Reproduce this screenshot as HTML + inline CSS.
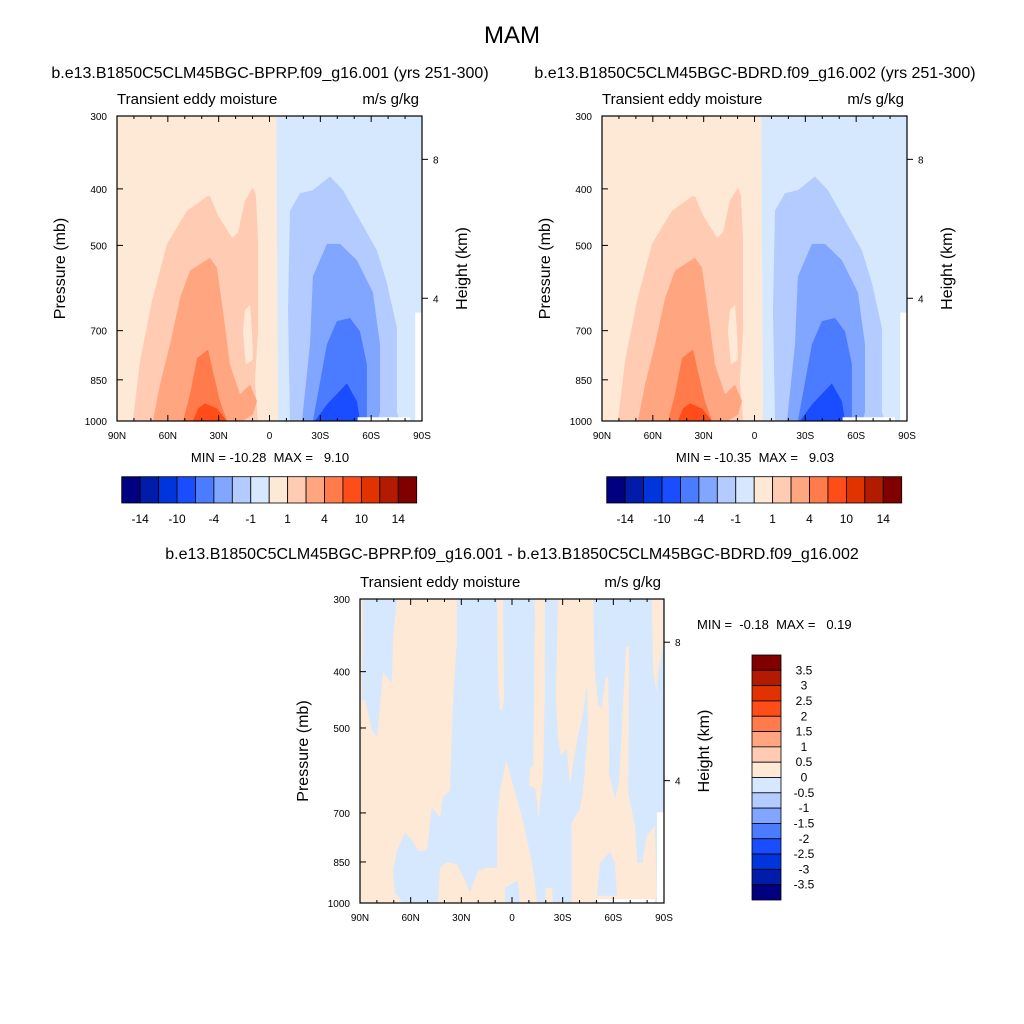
<!DOCTYPE html>
<html><head><meta charset="utf-8"><style>
html,body{margin:0;padding:0;background:#fff;}
svg{display:block;font-family:"Liberation Sans",sans-serif;}
</style></head><body>
<svg id="c" width="1024" height="1024" viewBox="0 0 1024 1024">
<text x="512" y="43" font-size="24" text-anchor="middle">MAM</text>
</svg>
<script>
// ---- data ----
const palette = ['#000080','#001ca8','#0034dc','#1a4dff','#4b7bff','#80a6ff','#b3cbff','#d6e8fd','#fee8d6','#ffccb3','#ffa680','#ff7b4b','#ff4d1a','#e03300','#b31b00','#800000'];
const topBarLabels = ['-14','-10','-4','-1','1','4','10','14'];
const diffBarLabels = ['3.5','3','2.5','2','1.5','1','0.5','0','-0.5','-1','-1.5','-2','-2.5','-3','-3.5'];
const latTicks = [90,60,30,0,-30,-60,-90];
const latTickLabels = ['90N','60N','30N','0','30S','60S','90S'];
const presTicks = [300,400,500,700,850,1000];
const heightTicks = [8,4];
const heightTickPres = [356,616];
// contour regions: [lat, pressure(mb)] and fill level index
const posL1 = [[90,300],[-4,300],[-5,1000],[90,1000]];
const negL1 = [[-4,300],[-90,300],[-90,1000],[-5,1000]];
const posL2 = [[80.6,1000],[76.4,790],[69.4,623],[60.5,497],[48.7,436],[36.9,412],[35.1,412],[30.4,444],[22.1,485],[18.6,475],[14.5,419],[9.8,398],[8,410],[6.8,489],[6.8,702],[8.6,857],[6.8,1000]];
const posHole = [[13.9,800],[15.7,702],[14.5,646],[11.5,632],[10.3,702],[9.8,785]];
const posL3 = [[68.8,1000],[64.6,866],[58.7,739],[52.8,616],[46.9,552],[35.1,525],[31,546],[27.5,646],[23.3,800],[17.4,900],[11.5,866],[7.4,925],[9.8,975],[15.7,1000]];
const posL4 = [[51,1000],[46.9,900],[42.8,780],[36.3,754],[33.4,822],[29.2,925],[25.1,1000]];
const posL5 = [[45.2,1000],[42.2,952],[38,933],[31,952],[25.1,1000]];
const negL2 = [[-12.1,1000],[-10.9,646],[-12.1,436],[-18,407],[-25.6,402],[-35.7,381],[-43.3,402],[-53.4,453],[-63.4,510],[-69.3,580],[-75.2,692],[-75.2,965],[-77,1000]];
const negL3 = [[-19.2,1000],[-23.9,739],[-25.6,565],[-33.9,497],[-41.6,497],[-51.6,530],[-61,602],[-65.2,739],[-65.2,965],[-64,1000]];
const negL4 = [[-25.6,1000],[-33.9,739],[-39.8,674],[-47.5,666],[-53.4,702],[-57.5,800],[-57.5,1000]];
const negL5 = [[-26.8,1000],[-33.9,937],[-45.7,862],[-51.6,925],[-53.4,1000]];
const missA = [[-52,985],[-83,985],[-83,1000],[-52,1000]];
const missB = [[-86,652],[-90,652],[-90,1000],[-86,1000]];
// difference panel
const dBlueL = [[88.2,300],[68.1,300],[70.5,353],[71.1,419],[76.4,401],[79.9,519],[82.9,505],[87,448],[88.8,448]];
const dBlueC = [[32.6,300],[-27.2,300],[-26,439],[-27.2,521],[-29,557],[-32.5,542],[-34.3,628],[-36.1,573],[-39.1,514],[-42,470],[-44.4,420],[-45,501],[-43.2,587],[-42,654],[-40.2,688],[-35.5,727],[-35.5,1000],[64.5,1000],[69.3,960],[70.5,880],[68.1,813],[63.4,757],[59.2,779],[55.7,813],[50.3,813],[47.4,685],[42.6,713],[40.9,657],[36.7,640],[34.9,448],[32.6,353]];
const dBlueR = [[-48,300],[-90,300],[-90,1000],[-48,1000]];
const dPeachR = [[-27.4,300],[-48.1,300],[-49.1,405],[-51.1,457],[-53.1,462],[-55.6,409],[-57,409],[-57.6,603],[-61,662],[-63.5,619],[-67.5,363],[-69.4,363],[-68.8,646],[-72.8,736],[-74.2,853],[-77.4,853],[-79.7,766],[-84.6,736],[-85.6,972],[-84.6,993],[-35.3,993],[-35.3,727],[-40.2,688],[-41.8,654],[-43.2,587],[-45.2,501],[-44.8,422],[-44.2,421],[-42.2,470],[-39.2,514],[-36.3,573],[-34.3,628],[-32.4,542],[-28.8,557],[-27.4,521],[-26,439]];
const dBluePatch = [[-50.3,972],[-52.1,853],[-58,817],[-61,853],[-62.1,972]];
const dPeachS1 = [[8.9,300],[5.3,300],[4.7,448],[5.9,466],[7.1,466],[8.3,414]];
const dPeachS2 = [[-13.6,300],[-19.5,300],[-19.5,422],[-18.5,603],[-17,654],[-16,713],[-15.6,713],[-14.6,662],[-13.6,635],[-10.2,628],[-10.6,587],[-12.6,580]];
const dPeachS3 = [[-82.7,300],[-89.4,300],[-89.4,360],[-86.6,401],[-85.6,434],[-83.6,401]];
const dPeachW = [[3.6,573],[7.1,640],[8.9,727],[8.9,870],[14.8,870],[20.1,880],[24.9,960],[26.1,1000],[4.2,1000],[4.2,942],[-3.5,915],[-4.7,1000],[-14.8,1000],[-13.6,926],[-11.8,851],[-6.5,722],[3,573]];
const dPeachB = [[43.8,1000],[42.6,870],[38.5,851],[32.6,858],[27.8,915],[24.9,960],[23.7,1000]];
const dPeachSm = [[-19.5,1000],[-20.1,942],[-23.7,942],[-24.3,1000]];
const dMissA = [[-85.8,698],[-90,698],[-90,1000],[-85.8,1000]];
const dMissB = [[-50.9,985],[-84.6,985],[-84.6,1000],[-50.9,1000]];

const svg = document.getElementById('c');
const NS = 'http://www.w3.org/2000/svg';
function mk(tag, attrs, parent){const e=document.createElementNS(NS,tag);for(const k in attrs)e.setAttribute(k,attrs[k]);(parent||svg).appendChild(e);return e;}
function txt(x,y,s,size,anchor,parent,rot){const t=mk('text',{x:x,y:y,'font-size':size,'text-anchor':anchor||'start'},parent);if(rot)t.setAttribute('transform','rotate(-90 '+x+' '+y+')');t.textContent=s;return t;}

function panel(x0,y0,w,h,regions,name){
  const g=mk('g',{});
  
  
  const X=lat=>x0+(90-lat)/180*w;
  const Y=p=>y0+Math.log(p/300)/Math.log(1000/300)*h;
  regions.forEach(r=>{
    const pts=r.pts.map(q=>X(q[0]).toFixed(1)+','+Y(q[1]).toFixed(1)).join(' ');
    const pg=mk('polygon',{points:pts,fill:r.fill},g);
    
    
  });
  const fr=mk('rect',{x:x0,y:y0,width:w,height:h,fill:'none',stroke:'#000','stroke-width':1.2},g);
  
  
  for(let lat=90;lat>=-90;lat-=10){
    const x=X(lat),major=lat%30===0,L=major?6:3;
    mk('line',{x1:x,y1:y0+h,x2:x,y2:y0+h-L,stroke:'#000'},g);
    mk('line',{x1:x,y1:y0,x2:x,y2:y0+L,stroke:'#000'},g);
  }
  latTicks.forEach((lat,i)=>{const t=txt(X(lat),y0+h+18,latTickLabels[i],10,'middle',g);
    
    });
  presTicks.forEach(p=>{const y=Y(p);mk('line',{x1:x0,y1:y,x2:x0+6,y2:y,stroke:'#000'},g);
    const t=txt(x0-10,y+4,String(p),10,'end',g);
    
    });
  heightTicks.forEach((hk,i)=>{const y=Y(heightTickPres[i]);mk('line',{x1:x0+w,y1:y,x2:x0+w+6,y2:y,stroke:'#000'},g);
    const t=txt(x0+w+11,y+4,String(hk),10,'start',g);
    
    });
  let t=txt(x0-52,y0+h/2,'Pressure (mb)',16,'middle',g,true);
  
  
  t=txt(x0+w+45,y0+h/2,'Height (km)',16,'middle',g,true);
  
  
  t=txt(x0,y0-12,'Transient eddy moisture',15,'start',g);
  
  
  t=txt(x0+w-3,y0-12,'m/s g/kg',15,'end',g);
  
  
  return g;
}
const P=i=>palette[i];
const topRegions=[
 {pts:posL1,fill:P(8),name:'contour-pos-1'},{pts:negL1,fill:P(7),name:'contour-neg-1'},
 {pts:posL2,fill:P(9),name:'contour-pos-2'},{pts:posHole,fill:P(8),name:'contour-pos-hole'},
 {pts:posL3,fill:P(10),name:'contour-pos-3'},{pts:posL4,fill:P(11),name:'contour-pos-4'},{pts:posL5,fill:P(12),name:'contour-pos-5'},
 {pts:negL2,fill:P(6),name:'contour-neg-2'},{pts:negL3,fill:P(5),name:'contour-neg-3'},{pts:negL4,fill:P(4),name:'contour-neg-4'},{pts:negL5,fill:P(3),name:'contour-neg-5'},
 {pts:missA,fill:'#fff',name:'missing-area'},{pts:missB,fill:'#fff',name:'missing-edge'}];
const diffRegions=[
 {pts:[[90,300],[-90,300],[-90,1000],[90,1000]],fill:P(8),name:'diff-positive-bg'},
 {pts:dBlueL,fill:P(7),name:'diff-neg-left'},{pts:dBlueC,fill:P(7),name:'diff-neg-center'},{pts:dBlueR,fill:P(7),name:'diff-neg-right'},
 {pts:dPeachR,fill:P(8),name:'diff-pos-right'},{pts:dBluePatch,fill:P(7),name:'diff-neg-patch'},
 {pts:dPeachS1,fill:P(8),name:'diff-pos-strip1'},{pts:dPeachS2,fill:P(8),name:'diff-pos-strip2'},{pts:dPeachS3,fill:P(8),name:'diff-pos-strip3'},
 {pts:dPeachW,fill:P(8),name:'diff-pos-wedge'},{pts:dPeachB,fill:P(8),name:'diff-pos-bump'},{pts:dPeachSm,fill:P(8),name:'diff-pos-small'},
 {pts:dMissA,fill:'#fff',name:'diff-missing-edge'},{pts:dMissB,fill:'#fff',name:'diff-missing-bottom'}];

panel(117,116,305,305,topRegions,'panel-bprp');
panel(602,116,305,305,topRegions,'panel-bdrd');
panel(360,599,304,304,diffRegions,'panel-difference');

let t;
t=txt(270,78,'b.e13.B1850C5CLM45BGC-BPRP.f09_g16.001 (yrs 251-300)',16,'middle');
 
t=txt(755,78,'b.e13.B1850C5CLM45BGC-BDRD.f09_g16.002 (yrs 251-300)',16,'middle');
 
t=txt(512,559,'b.e13.B1850C5CLM45BGC-BPRP.f09_g16.001 - b.e13.B1850C5CLM45BGC-BDRD.f09_g16.002',16,'middle');
 
t=txt(270,462,'MIN = -10.28  MAX =   9.10',13,'middle');
 
t=txt(755,462,'MIN = -10.35  MAX =   9.03',13,'middle');
 
t=txt(697,629,'MIN =  -0.18  MAX =   0.19',13,'start');
 
t.setAttribute('xml:space','preserve'); t.style.whiteSpace='pre';
svg.querySelectorAll('text').forEach(e=>e.style.whiteSpace='pre');

function hbar(x0,y0,w,h,name){
  const g=mk('g',{});
  
  
  const bw=w/palette.length;
  palette.forEach((c,i)=>{const r=mk('rect',{x:x0+i*bw,y:y0,width:bw,height:h,fill:c,stroke:'#000','stroke-width':0.8},g);
    
    });
  topBarLabels.forEach((s,i)=>{const tt=txt(x0+(2*i+1)*bw,y0+h+20,s,12,'middle',g);
    
    });
}
hbar(121.7,476.7,295,26.3,'colorbar-panel1');
hbar(606.7,476.7,295,26.3,'colorbar-panel2');
(function(){
  const x0=752,y0=655,w=29,h=245,g=mk('g',{});
  
  
  const bh=h/palette.length;
  palette.slice().reverse().forEach((c,i)=>{const r=mk('rect',{x:x0,y:y0+i*bh,width:w,height:bh,fill:c,stroke:'#000','stroke-width':0.8},g);
    
    });
  diffBarLabels.forEach((s,i)=>{const tt=txt(804,y0+(i+1)*bh+4,s,12,'middle',g);
    
    });
})();
</script>
</body></html>
